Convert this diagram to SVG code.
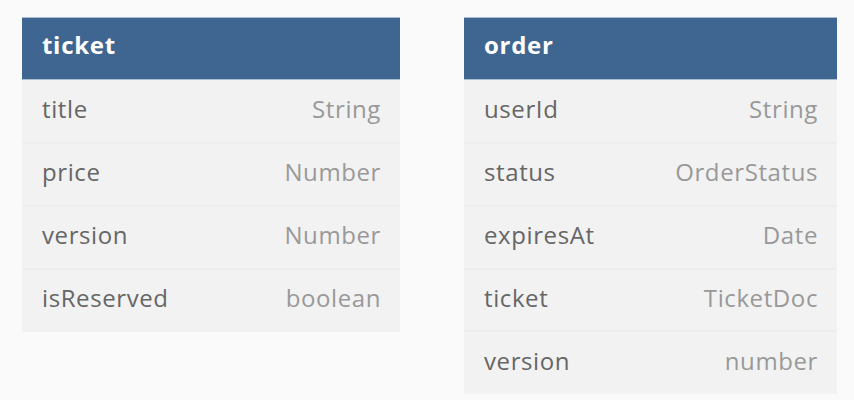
<svg xmlns="http://www.w3.org/2000/svg" width="854" height="400" viewBox="0 0 854 400">
<style>
.bg{fill:#fafafa}
.hdr{fill:#3f6690}
.hline{stroke:#a9bdd3;stroke-width:1}
.row{fill:#f2f2f2}
.div{stroke:#e9e9e9;stroke-width:1}
.title{font-family:"Open Sans",sans-serif;font-weight:bold;font-size:24px;letter-spacing:0.7px;fill:#ffffff}
.name{font-family:"Open Sans",sans-serif;font-size:24px;letter-spacing:0.6px;fill:#666666}
.type{font-family:"Open Sans",sans-serif;font-size:24px;letter-spacing:0.6px;fill:#999999;text-anchor:end}
</style>
<rect class="bg" x="0" y="0" width="854" height="400"/>
<g id="ticket">
<rect class="hdr" x="22" y="17" width="378" height="63"/>
<line class="hline" x1="22" y1="17.5" x2="400" y2="17.5"/>
<line class="hline" x1="22" y1="79.5" x2="400" y2="79.5"/>
<text class="title" x="42" y="54">ticket</text>
<rect class="row" x="22" y="80" width="378" height="252"/>
<line class="div" x1="22" y1="143" x2="400" y2="143"/>
<line class="div" x1="22" y1="206" x2="400" y2="206"/>
<line class="div" x1="22" y1="269" x2="400" y2="269"/>
<text class="name" x="42" y="118">title</text><text class="type" x="381" y="118">String</text>
<text class="name" x="42" y="181">price</text><text class="type" x="381" y="181">Number</text>
<text class="name" x="42" y="244">version</text><text class="type" x="381" y="244">Number</text>
<text class="name" x="42" y="307">isReserved</text><text class="type" x="381" y="307">boolean</text>
</g>
<g id="order">
<rect class="hdr" x="464" y="17" width="373" height="63"/>
<line class="hline" x1="464" y1="17.5" x2="837" y2="17.5"/>
<line class="hline" x1="464" y1="79.5" x2="837" y2="79.5"/>
<text class="title" x="484" y="54">order</text>
<rect class="row" x="464" y="80" width="373" height="314"/>
<line class="div" x1="464" y1="143" x2="837" y2="143"/>
<line class="div" x1="464" y1="206" x2="837" y2="206"/>
<line class="div" x1="464" y1="269" x2="837" y2="269"/>
<line class="div" x1="464" y1="331" x2="837" y2="331"/>
<text class="name" x="484" y="118">userId</text><text class="type" x="818" y="118">String</text>
<text class="name" x="484" y="181">status</text><text class="type" x="818" y="181">OrderStatus</text>
<text class="name" x="484" y="244">expiresAt</text><text class="type" x="818" y="244">Date</text>
<text class="name" x="484" y="307">ticket</text><text class="type" x="818" y="307">TicketDoc</text>
<text class="name" x="484" y="370">version</text><text class="type" x="818" y="370">number</text>
</g>
<g id="connectors"></g>
</svg>
